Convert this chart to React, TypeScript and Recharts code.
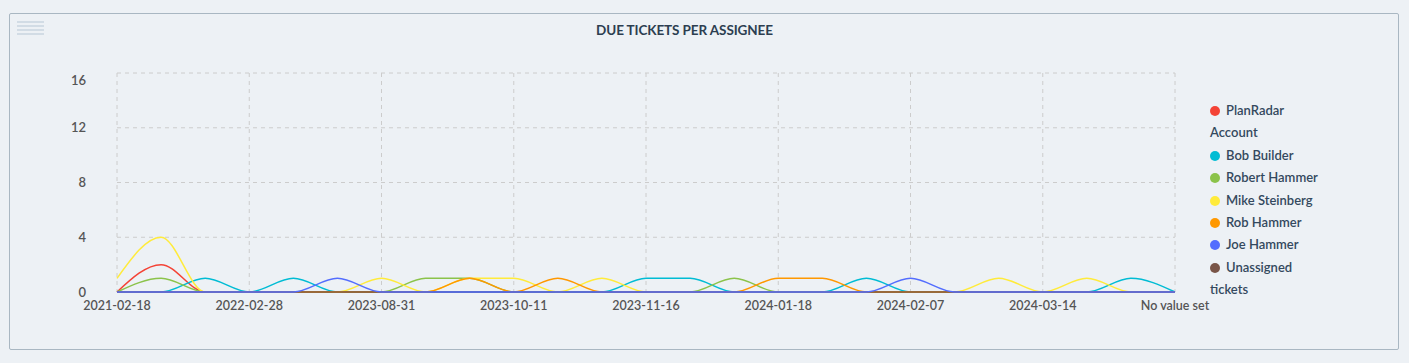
import React from 'react';
import { LineChart, Line, XAxis, YAxis, CartesianGrid, Legend } from 'recharts';

const categories = [
  '2021-02-18', '2021-06-10', '2021-11-23', '2022-02-28', '2022-09-14', '2023-03-02',
  '2023-08-31', '2023-09-12', '2023-09-27', '2023-10-11', '2023-10-24', '2023-11-03',
  '2023-11-16', '2023-12-05', '2023-12-20', '2024-01-18', '2024-01-25', '2024-02-01',
  '2024-02-07', '2024-02-20', '2024-03-01', '2024-03-14', '2024-03-28', '2024-04-10',
  'No value set',
];

const planRadar = [0, 2, 0, 0, 0, 0, 0, 0, 0, 0, 0, 0, 0, 0, 0, 0, 0, 0, 0, 0, 0, 0, 0, 0, 0];
const bobBuilder = [0, 0, 1, 0, 1, 0, 0, 0, 0, 0, 0, 0, 1, 1, 0, 0, 0, 1, 0, 0, 0, 0, 0, 1, 0];
const robertHammer = [0, 1, 0, 0, 0, 0, 0, 1, 1, 0, 0, 0, 0, 0, 1, 0, 0, 0, 0, 0, 0, 0, 0, 0, 0];
const mikeSteinberg = [1, 4, 0, 0, 0, 0, 1, 0, 1, 1, 0, 1, 0, 0, 0, 0, 0, 0, 0, 0, 1, 0, 1, 0, 0];
const robHammer = [0, 0, 0, 0, 0, 0, 0, 0, 1, 0, 1, 0, 0, 0, 0, 1, 1, 0, 0, 0, 0, 0, 0, 0, 0];
const joeHammer = [0, 0, 0, 0, 0, 1, 0, 0, 0, 0, 0, 0, 0, 0, 0, 0, 0, 0, 1, 0, 0, 0, 0, 0, 0];
const unassigned = [0, 0, 0, 0, 0, 0, 0, 0, 0, 0, 0, 0, 0, 0, 0, 0, 0, 0, 0, 0, 0, 0, 0, 0, 0];

const yTicks = [0, 4, 8, 12, 16];

const series = [
  { key: 'planRadar', name: 'PlanRadar Account', color: '#f44336', values: planRadar },
  { key: 'bobBuilder', name: 'Bob Builder', color: '#00bcd4', values: bobBuilder },
  { key: 'robertHammer', name: 'Robert Hammer', color: '#8bc34a', values: robertHammer },
  { key: 'mikeSteinberg', name: 'Mike Steinberg', color: '#ffeb3b', values: mikeSteinberg },
  { key: 'robHammer', name: 'Rob Hammer', color: '#ff9800', values: robHammer },
  { key: 'joeHammer', name: 'Joe Hammer', color: '#536dfe', values: joeHammer },
  { key: 'unassigned', name: 'Unassigned tickets', color: '#795548', values: unassigned },
];

const drawOrder = ['planRadar', 'bobBuilder', 'robertHammer', 'mikeSteinberg', 'robHammer', 'unassigned', 'joeHammer'];

const data = categories.map((c, i) => {
  const row: Record<string, string | number> = { date: c };
  series.forEach((s) => { row[s.key] = s.values[i]; });
  return row;
});

const FONT = 'Lato, "Noto Sans", sans-serif';

const LegendContent = () => (
  <div style={{ width: 116, fontFamily: FONT, fontSize: 13, fontWeight: 600, color: '#34495e', lineHeight: '22.4px' }}>
    {series.map((s) => (
      <div key={s.key}>
        <span style={{ display: 'inline-block', width: 10, height: 10, borderRadius: 5, background: s.color, marginRight: 6, verticalAlign: '-1px' }} />
        {s.name}
      </div>
    ))}
  </div>
);

const YTick = (props: any) => {
  const { x, y, payload } = props;
  const dy = payload.value === 16 ? 7 : 0;
  return (
    <text x={x} y={y + dy} dy="0.355em" textAnchor="end" fill="#555" fontSize={13} fontWeight={600} fontFamily={FONT}>
      {payload.value}
    </text>
  );
};

export default function App() {
  return (
    <div style={{ position: 'fixed', left: 0, top: 0, width: 1409, height: 363, background: '#edf1f5', fontFamily: FONT }}>
      <div style={{ position: 'absolute', left: 9, top: 13, width: 1390, height: 337, boxSizing: 'border-box', border: '1px solid #a9b7c2', borderRadius: 2 }} />
      {[21, 25, 29, 33].map((t) => (
        <div key={t} style={{ position: 'absolute', left: 17, top: t, width: 27, height: 2, background: '#d2dce5' }} />
      ))}
      <div style={{ position: 'absolute', left: 0, top: 22, width: 1369, textAlign: 'center', fontSize: 13.5, fontWeight: 700, color: '#2c3e50', letterSpacing: -0.1 }}>
        DUE TICKETS PER ASSIGNEE
      </div>
      <div style={{ position: 'absolute', left: 0, top: 0 }}>
        <LineChart width={1409} height={363} data={data} margin={{ top: 73, right: 234, bottom: 41, left: 57 }}>
          <CartesianGrid stroke="#ccc" strokeDasharray="4 4" />
          <XAxis
            dataKey="date"
            interval={2}
            tickLine={false}
            axisLine={false}
            tickSize={6}
            tickMargin={3}
            height={30}
            tick={{ fill: '#555', fontSize: 12.5, fontWeight: 600, fontFamily: FONT }}
          />
          <YAxis
            domain={[0, 16]}
            ticks={yTicks}
            width={60}
            tickLine={false}
            axisLine={false}
            tickSize={6}
            tickMargin={25}
            tick={<YTick />}
          />
          <Legend
            layout="horizontal"
            verticalAlign="middle"
            align="center"
            content={<LegendContent />}
            wrapperStyle={{ position: 'absolute', left: 1210, top: 99, width: 116 }}
          />
          {drawOrder.map((k) => {
            const s = series.find((x) => x.key === k)!;
            return (
              <Line
                key={s.key}
                type="monotone"
                dataKey={s.key}
                name={s.name}
                stroke={s.color}
                strokeWidth={1.5}
                dot={false}
                activeDot={false}
                isAnimationActive={false}
              />
            );
          })}
        </LineChart>
      </div>
    </div>
  );
}
